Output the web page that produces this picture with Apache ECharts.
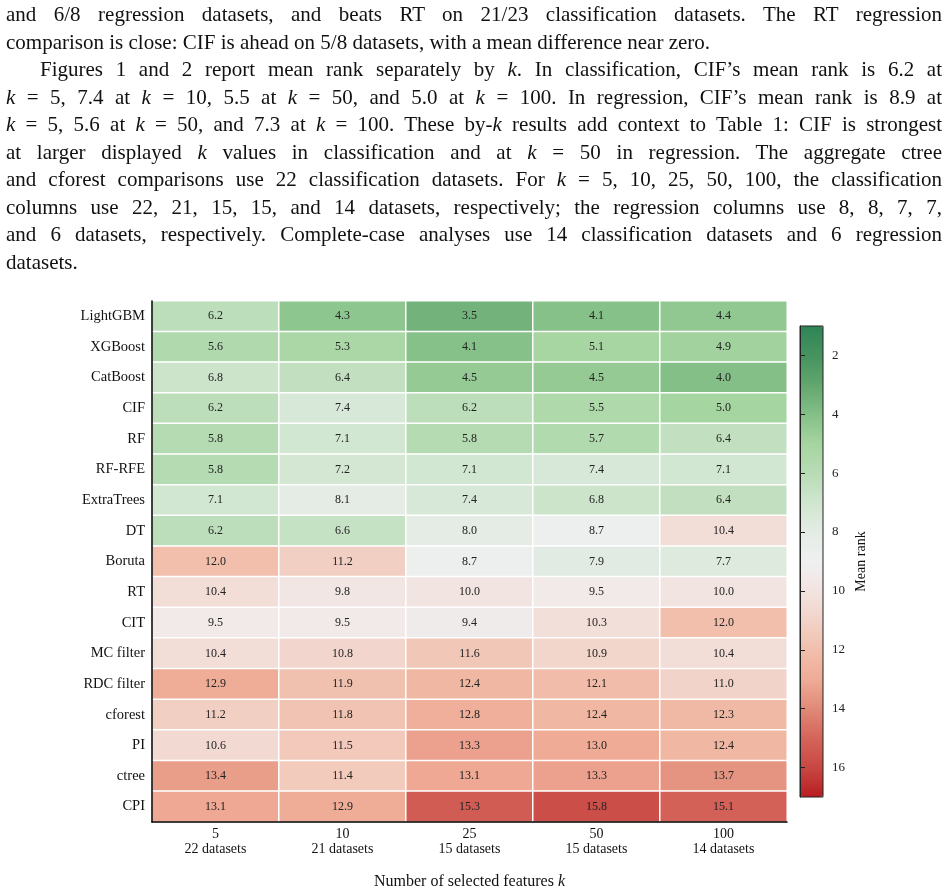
<!DOCTYPE html>
<html>
<head>
<meta charset="utf-8">
<title>Mean rank by k</title>
<script src="https://cdn.jsdelivr.net/npm/echarts@6/dist/echarts.min.js"></script>
<style>
  body { margin: 0; background: #fff; }
  #text {
    position: absolute; left: 6px; top: 1px; width: 936px;
    font-family: "Liberation Serif", serif; font-size: 21px; line-height: 27.5px; color: #111;
  }
  #text .j { text-align: justify; text-align-last: justify; }
  #text .ind { padding-left: 34px; }
  #main { position: absolute; left: 0; top: 0; width: 949px; height: 893px; }
</style>
</head>
<body>
<div id="main"></div>
<div id="text">
  <div class="j">and 6/8 regression datasets, and beats RT on 21/23 classification datasets. The RT regression</div>
  <div>comparison is close: CIF is ahead on 5/8 datasets, with a mean difference near zero.</div>
  <div class="j ind">Figures 1 and 2 report mean rank separately by <i>k</i>. In classification, CIF’s mean rank is 6.2 at</div>
  <div class="j"><i>k</i> = 5, 7.4 at <i>k</i> = 10, 5.5 at <i>k</i> = 50, and 5.0 at <i>k</i> = 100. In regression, CIF’s mean rank is 8.9 at</div>
  <div class="j"><i>k</i> = 5, 5.6 at <i>k</i> = 50, and 7.3 at <i>k</i> = 100. These by-<i>k</i> results add context to Table 1: CIF is strongest</div>
  <div class="j">at larger displayed <i>k</i> values in classification and at <i>k</i> = 50 in regression. The aggregate ctree</div>
  <div class="j">and cforest comparisons use 22 classification datasets. For <i>k</i> = 5, 10, 25, 50, 100, the classification</div>
  <div class="j">columns use 22, 21, 15, 15, and 14 datasets, respectively; the regression columns use 8, 8, 7, 7,</div>
  <div class="j">and 6 datasets, respectively. Complete-case analyses use 14 classification datasets and 6 regression</div>
  <div>datasets.</div>
</div>
<script type="text/javascript">
// methods, top to bottom
var methods = ['LightGBM', 'XGBoost', 'CatBoost', 'CIF', 'RF', 'RF-RFE', 'ExtraTrees', 'DT',
  'Boruta', 'RT', 'CIT', 'MC filter', 'RDC filter', 'cforest', 'PI', 'ctree', 'CPI'];
var kValues = ['5', '10', '25', '50', '100'];
var datasetCounts = ['22 datasets', '21 datasets', '15 datasets', '15 datasets', '14 datasets'];

// mean rank, one row per method, columns k = 5, 10, 25, 50, 100
var lightgbm   = [6.2, 4.3, 3.5, 4.1, 4.4];
var xgboost    = [5.6, 5.3, 4.1, 5.1, 4.9];
var catboost   = [6.8, 6.4, 4.5, 4.5, 4.0];
var cif        = [6.2, 7.4, 6.2, 5.5, 5.0];
var rf         = [5.8, 7.1, 5.8, 5.7, 6.4];
var rfRfe      = [5.8, 7.2, 7.1, 7.4, 7.1];
var extraTrees = [7.1, 8.1, 7.4, 6.8, 6.4];
var dt         = [6.2, 6.6, 8.0, 8.7, 10.4];
var boruta     = [12.0, 11.2, 8.7, 7.9, 7.7];
var rt         = [10.4, 9.8, 10.0, 9.5, 10.0];
var cit        = [9.5, 9.5, 9.4, 10.3, 12.0];
var mcFilter   = [10.4, 10.8, 11.6, 10.9, 10.4];
var rdcFilter  = [12.9, 11.9, 12.4, 12.1, 11.0];
var cforest    = [11.2, 11.8, 12.8, 12.4, 12.3];
var pi         = [10.6, 11.5, 13.3, 13.0, 12.4];
var ctree      = [13.4, 11.4, 13.1, 13.3, 13.7];
var cpi        = [13.1, 12.9, 15.3, 15.8, 15.1];

var rankRows = [lightgbm, xgboost, catboost, cif, rf, rfRfe, extraTrees, dt,
  boruta, rt, cit, mcFilter, rdcFilter, cforest, pi, ctree, cpi];

// colour bar: scale runs 1..17, ticks labelled at even ranks
var colorbarScale = ['1', '2', '3', '4', '5', '6', '7', '8', '9', '10', '11', '12', '13', '14', '15', '16', '17'];
var colorbarTicks = ['2', '4', '6', '8', '10', '12', '14', '16'];

// green -> white -> red, one stop per rank 1..17
var rankColors = ['#2e8456', '#46935f', '#62a66e', '#84bf88', '#a5d5a0', '#b8dcb5', '#d0e6cf', '#e4ece5',
  '#eff0f1', '#f2e4e1', '#f2d3c9', '#f1bfac', '#efab96', '#e08a78', '#d5645a', '#c84843', '#b81d20'];

var heatData = [];
for (var r = 0; r < rankRows.length; r++) {
  for (var c = 0; c < kValues.length; c++) {
    heatData.push([c, r, rankRows[r][c]]);
  }
}

function isColorbarTick(index) {
  return colorbarTicks.indexOf(colorbarScale[index]) >= 0;
}

var serif = '"Liberation Serif", serif';
var myChart = echarts.init(document.getElementById('main'));

var option = {
  animation: false,
  grid: [
    { left: 152, top: 301, width: 635, height: 521, outerBoundsMode: 'none', containLabel: false },
    { left: 800, top: 326, width: 23, height: 471, show: true, borderColor: '#222', borderWidth: 1,
      backgroundColor: 'transparent', z: 6, outerBoundsMode: 'none', containLabel: false }
  ],
  xAxis: [
    {
      type: 'category', gridIndex: 0, data: kValues, z: 10,
      axisLine: { lineStyle: { color: '#000', width: 1.5 } },
      axisTick: { show: false },
      splitLine: { show: false },
      axisLabel: {
        fontFamily: serif, fontSize: 14, color: '#111', margin: 5, lineHeight: 15,
        formatter: function (v, i) { return v + '\n' + datasetCounts[i]; }
      },
      name: 'Number of selected features {it|k}',
      nameLocation: 'middle', nameGap: 52,
      nameTextStyle: { fontFamily: serif, fontSize: 16, color: '#111',
        rich: { it: { fontFamily: serif, fontSize: 16, fontStyle: 'italic', color: '#111' } } }
    },
    { type: 'value', gridIndex: 1, show: false, min: 0, max: 1 }
  ],
  yAxis: [
    {
      type: 'category', gridIndex: 0, data: methods, inverse: true, z: 10,
      axisLine: { lineStyle: { color: '#000', width: 1.5 } },
      axisTick: { show: false },
      splitLine: { show: false },
      axisLabel: { fontFamily: serif, fontSize: 14.5, color: '#111', margin: 7 }
    },
    {
      type: 'category', gridIndex: 1, position: 'right', data: colorbarScale,
      boundaryGap: false, inverse: true, z: 10,
      axisLine: { show: true, lineStyle: { color: '#222', width: 1 } },
      splitLine: { show: false },
      axisTick: { show: true, length: 5, interval: function (i) { return isColorbarTick(i); },
        lineStyle: { color: '#222', width: 1 } },
      axisLabel: { fontFamily: serif, fontSize: 13, color: '#222', margin: 9,
        interval: function (i) { return isColorbarTick(i); } },
      name: 'Mean rank', nameLocation: 'middle', nameRotate: 90, nameGap: 31,
      nameTextStyle: { fontFamily: serif, fontSize: 14, color: '#111' }
    }
  ],
  visualMap: {
    type: 'continuous', min: 1, max: 17, inverse: true, seriesIndex: 0, dimension: 2,
    calculable: false, hoverLink: false, text: null, padding: 0,
    left: 800, top: 326, itemWidth: 23, itemHeight: 471,
    inRange: { color: rankColors }
  },
  series: [
    {
      type: 'heatmap', xAxisIndex: 0, yAxisIndex: 0, data: heatData,
      itemStyle: { borderColor: '#fff', borderWidth: 1.5 },
      label: {
        show: true, fontFamily: serif, fontSize: 12, color: '#222',
        formatter: function (p) { return p.value[2].toFixed(1); }
      },
      emphasis: { disabled: true }
    }
  ]
};
myChart.setOption(option);
</script>
</body>
</html>
